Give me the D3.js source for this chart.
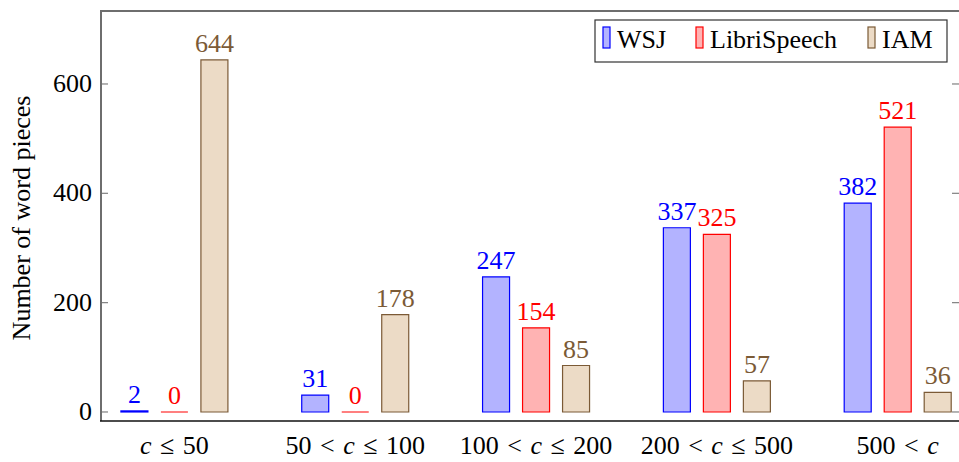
<!DOCTYPE html>
<html>
<head>
<meta charset="utf-8">
<script src="https://cdn.jsdelivr.net/npm/d3@7"></script>
<style>
  body { margin: 0; background: #fff; }
  text { font-family: "Liberation Serif", "DejaVu Serif", serif; }
</style>
</head>
<body>
<div id="chart-area"></div>
<script>
// data
var categories = ["c ≤ 50", "50 < c ≤ 100", "100 < c ≤ 200", "200 < c ≤ 500", "500 < c"];
var seriesNames = ["WSJ", "LibriSpeech", "IAM"];
var wsj = [2, 31, 247, 337, 382];
var libri = [0, 0, 154, 325, 521];
var iam = [644, 178, 85, 57, 36];
var yTicks = [0, 200, 400, 600];

var W = 959, H = 462;
var margin = { left: 101, right: 0, top: 11, bottom: 41 };

var styles = [
    { fill: "#b3b3ff", stroke: "#0000ff", text: "#0000ff" },
    { fill: "#ffb3b3", stroke: "#ff0000", text: "#ff0000" },
    { fill: "#ecdbc6", stroke: "#7b5a36", text: "#7b5a36" }
];
var series = [wsj, libri, iam];

var svg = d3.select("#chart-area").append("svg")
    .attr("width", W)
    .attr("height", H);

// x positions by category index; bars offset from the group centre
var x = d3.scaleLinear()
    .domain([-0.406, 4.339])
    .range([margin.left, W - margin.right]);

var y = d3.scaleLinear()
    .domain([-16.5, 733.5])
    .range([H - margin.bottom, margin.top]);

var barW = 27, barStep = 40;

var plotLeft = margin.left, plotRight = W + 1,
    plotTop = margin.top, plotBottom = H - margin.bottom;

// y ticks (inside, both sides)
svg.append("g").selectAll("line")
    .data(yTicks).enter().append("line")
    .attr("x1", plotLeft).attr("x2", plotLeft + 7)
    .attr("y1", (d) => y(d)).attr("y2", (d) => y(d))
    .attr("stroke", "#808080").attr("stroke-width", 1.2);
svg.append("g").selectAll("line")
    .data(yTicks).enter().append("line")
    .attr("x1", W - 7).attr("x2", W)
    .attr("y1", (d) => y(d)).attr("y2", (d) => y(d))
    .attr("stroke", "#808080").attr("stroke-width", 1.2);

svg.append("g").selectAll("text")
    .data(yTicks).enter().append("text")
    .attr("x", plotLeft - 9)
    .attr("y", (d) => y(d) + 8)
    .attr("text-anchor", "end")
    .attr("font-size", "26px")
    .text((d) => d);

// bars
series.forEach((vals, s) => {
    var g = svg.append("g");
    var cx = (i) => x(i) + (s - 1) * barStep;
    g.selectAll("path")
        .data(vals).enter().append("path")
        .attr("d", (d, i) => {
            var x0 = cx(i) - barW / 2, x1 = cx(i) + barW / 2;
            return "M" + x0 + "," + y(0) + "V" + y(d) + "H" + x1 + "V" + y(0) + "Z";
        })
        .attr("fill", styles[s].fill)
        .attr("stroke", styles[s].stroke)
        .attr("stroke-width", 1.2);
    g.selectAll("text")
        .data(vals).enter().append("text")
        .attr("x", (d, i) => cx(i))
        .attr("y", (d) => y(d) - 8)
        .attr("text-anchor", "middle")
        .attr("font-size", "26px")
        .attr("fill", styles[s].text)
        .text((d) => d);
});

// frame lines
svg.append("path")
    .attr("d", "M" + plotRight + "," + plotTop + "H" + plotLeft + "V" + plotBottom)
    .attr("fill", "none")
    .attr("stroke", "#6e6e6e")
    .attr("stroke-width", 2);
svg.append("line")
    .attr("x1", plotLeft - 1).attr("x2", plotRight)
    .attr("y1", plotBottom).attr("y2", plotBottom)
    .attr("stroke", "#111")
    .attr("stroke-width", 1.6);

// category labels, with c in italics
var cat = svg.append("g").selectAll("text")
    .data(categories).enter().append("text")
    .attr("x", (d, i) => x(i))
    .attr("y", H - 8)
    .attr("text-anchor", "middle")
    .attr("font-size", "26px")
    .attr("word-spacing", "2px");
cat.each(function(d) {
    var t = d3.select(this);
    d.split(/(c)/).forEach((part) => {
        if (part === "") return;
        t.append("tspan")
            .attr("font-style", part === "c" ? "italic" : "normal")
            .text(part);
    });
});

// y axis label
svg.append("text")
    .attr("transform", "translate(30," + ((plotTop + plotBottom) / 2 + 2) + ") rotate(-90)")
    .attr("text-anchor", "middle")
    .attr("font-size", "26px")
    .text("Number of word pieces");

// legend
var lg = svg.append("g");
lg.append("rect")
    .attr("x", 595).attr("y", 20)
    .attr("width", 352).attr("height", 42)
    .attr("fill", "#fff")
    .attr("stroke", "#333")
    .attr("stroke-width", 1.2);
var legendX = [603, 696, 868];
seriesNames.forEach((name, s) => {
    lg.append("rect")
        .attr("x", legendX[s]).attr("y", 27)
        .attr("width", 7).attr("height", 21)
        .attr("fill", styles[s].fill)
        .attr("stroke", styles[s].stroke)
        .attr("stroke-width", 1.2);
    lg.append("text")
        .attr("x", legendX[s] + 14)
        .attr("y", 48)
        .attr("font-size", "26px")
        .text(name);
});
</script>
</body>
</html>
